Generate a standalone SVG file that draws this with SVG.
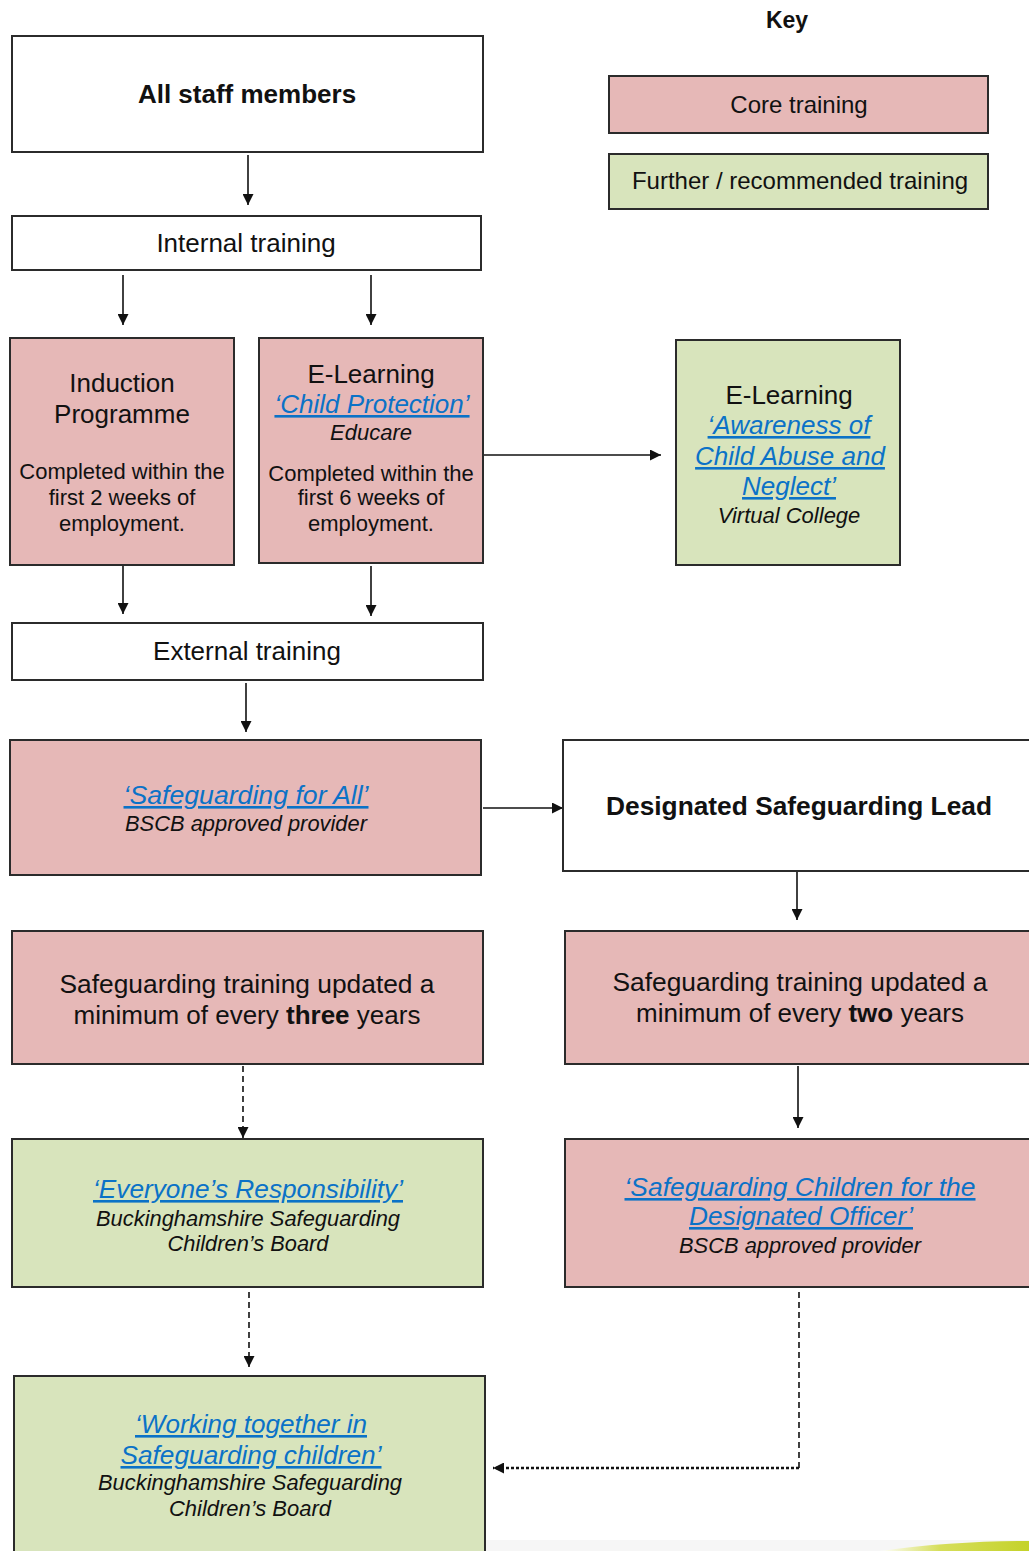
<svg xmlns="http://www.w3.org/2000/svg" width="1029" height="1551" viewBox="0 0 1029 1551">
<defs>
<style>
text{font-family:"Liberation Sans",Arial,sans-serif;fill:#111;text-anchor:middle}
.b{font-weight:bold}
.t26{font-size:26px}
.t24{font-size:24px}
.t22{font-size:22px}
.i{font-style:italic}
.lk{fill:#0B72C7;font-style:italic;text-decoration:underline}
.box{stroke:#2b2b2b;stroke-width:2}
.w{fill:#ffffff}
.core{fill:#E6B8B7}
.fur{fill:#D8E4BC}
.c{stroke:#111;stroke-width:1.6;fill:none}
.d1{stroke-dasharray:6 4}
.d2{stroke-dasharray:3 2;stroke-width:2.6}
</style>
<marker id="ah" viewBox="0 0 10 10" refX="10" refY="5" markerWidth="12" markerHeight="11" markerUnits="userSpaceOnUse" orient="auto">
<path d="M0,0 L10,5 L0,10 z" fill="#111"/>
</marker>
<linearGradient id="sw" x1="0" y1="0" x2="1" y2="0">
<stop offset="0" stop-color="#ffffff"/>
<stop offset="0.4" stop-color="#D6DE5A"/>
<stop offset="1" stop-color="#C4D22A"/>
</linearGradient>
</defs>
<rect width="1029" height="1551" fill="#ffffff"/>

<g id="key">
<text class="b" x="787" y="28" font-size="23">Key</text>
<rect class="box core" x="609" y="76" width="379" height="57"/>
<text class="t24" x="799" y="113">Core training</text>
<rect class="box fur" x="609" y="154" width="379" height="55"/>
<text class="t24" x="800" y="189">Further / recommended training</text>
</g>

<g id="connectors">
<line class="c" x1="248" y1="155" x2="248" y2="205" marker-end="url(#ah)"/>
<line class="c" x1="123" y1="275" x2="123" y2="325" marker-end="url(#ah)"/>
<line class="c" x1="371" y1="275" x2="371" y2="325" marker-end="url(#ah)"/>
<line class="c" x1="483" y1="455" x2="661" y2="455" marker-end="url(#ah)"/>
<line class="c" x1="123" y1="566" x2="123" y2="614" marker-end="url(#ah)"/>
<line class="c" x1="371" y1="566" x2="371" y2="616" marker-end="url(#ah)"/>
<line class="c" x1="246" y1="683" x2="246" y2="732" marker-end="url(#ah)"/>
<line class="c" x1="483" y1="808" x2="563" y2="808" marker-end="url(#ah)"/>
<line class="c" x1="797" y1="871" x2="797" y2="920" marker-end="url(#ah)"/>
<line class="c d1" x1="243" y1="1066" x2="243" y2="1138" marker-end="url(#ah)"/>
<line class="c" x1="798" y1="1066" x2="798" y2="1128" marker-end="url(#ah)"/>
<line class="c d1" x1="249" y1="1292" x2="249" y2="1367" marker-end="url(#ah)"/>
<line class="c d1" x1="799" y1="1292" x2="799" y2="1468"/>
<line class="c d2" x1="799" y1="1468" x2="493" y2="1468" marker-end="url(#ah)"/>
</g>

<g id="n-all-staff">
<rect class="box w" x="12" y="36" width="471" height="116"/>
<text class="b t26" x="247" y="103">All staff members</text>
</g>

<g id="n-internal">
<rect class="box w" x="12" y="216" width="469" height="54"/>
<text class="t26" x="246" y="252">Internal training</text>
</g>

<g id="n-induction">
<rect class="box core" x="10" y="338" width="224" height="227"/>
<text class="t26" x="122" y="392">Induction</text>
<text class="t26" x="122" y="423">Programme</text>
<text class="t22" x="122" y="479">Completed within the</text>
<text class="t22" x="122" y="505">first 2 weeks of</text>
<text class="t22" x="122" y="531">employment.</text>
</g>

<g id="n-elearning-cp">
<rect class="box core" x="259" y="338" width="224" height="225"/>
<text class="t26" x="371" y="383">E-Learning</text>
<text class="t26 lk" x="372" y="413">‘Child Protection’</text>
<text class="t22 i" x="371" y="440">Educare</text>
<text class="t22" x="371" y="481">Completed within the</text>
<text class="t22" x="371" y="505">first 6 weeks of</text>
<text class="t22" x="371" y="531">employment.</text>
</g>

<g id="n-elearning-vc">
<rect class="box fur" x="676" y="340" width="224" height="225"/>
<text class="t26" x="789" y="404">E-Learning</text>
<text class="t26 lk" x="789" y="434">‘Awareness of</text>
<text class="t26 lk" x="790" y="465">Child Abuse and</text>
<text class="t26 lk" x="789" y="495">Neglect’</text>
<text class="t22 i" x="789" y="523">Virtual College</text>
</g>

<g id="n-external">
<rect class="box w" x="12" y="623" width="471" height="57"/>
<text class="t26" x="247" y="660">External training</text>
</g>

<g id="n-sfa">
<rect class="box core" x="10" y="740" width="471" height="135"/>
<text class="t26 lk" x="246" y="804" textLength="245" lengthAdjust="spacingAndGlyphs">‘Safeguarding for All’</text>
<text class="t22 i" x="246" y="831" textLength="242" lengthAdjust="spacingAndGlyphs">BSCB approved provider</text>
</g>

<g id="n-dsl">
<rect class="box w" x="563" y="740" width="480" height="131"/>
<text class="b t26" x="799" y="815" textLength="386" lengthAdjust="spacingAndGlyphs">Designated Safeguarding Lead</text>
</g>

<g id="n-update-three">
<rect class="box core" x="12" y="931" width="471" height="133"/>
<text class="t26" x="247" y="993" textLength="375" lengthAdjust="spacingAndGlyphs">Safeguarding training updated a</text>
<text class="t26" x="247" y="1024">minimum of every <tspan class="b">three</tspan> years</text>
</g>

<g id="n-update-two">
<rect class="box core" x="565" y="931" width="478" height="133"/>
<text class="t26" x="800" y="991" textLength="375" lengthAdjust="spacingAndGlyphs">Safeguarding training updated a</text>
<text class="t26" x="800" y="1022">minimum of every <tspan class="b">two</tspan> years</text>
</g>

<g id="n-everyone">
<rect class="box fur" x="12" y="1139" width="471" height="148"/>
<text class="t26 lk" x="248" y="1198" textLength="310" lengthAdjust="spacingAndGlyphs">‘Everyone’s Responsibility’</text>
<text class="t22 i" x="248" y="1226" textLength="304" lengthAdjust="spacingAndGlyphs">Buckinghamshire Safeguarding</text>
<text class="t22 i" x="248" y="1251" textLength="161" lengthAdjust="spacingAndGlyphs">Children’s Board</text>
</g>

<g id="n-designated-officer">
<rect class="box core" x="565" y="1139" width="478" height="148"/>
<text class="t26 lk" x="800" y="1196" textLength="351" lengthAdjust="spacingAndGlyphs">‘Safeguarding Children for the</text>
<text class="t26 lk" x="801" y="1225" textLength="224" lengthAdjust="spacingAndGlyphs">Designated Officer’</text>
<text class="t22 i" x="800" y="1253" textLength="242" lengthAdjust="spacingAndGlyphs">BSCB approved provider</text>
</g>

<g id="n-working-together">
<rect class="box fur" x="14" y="1376" width="471" height="190"/>
<text class="t26 lk" x="251" y="1433" textLength="232" lengthAdjust="spacingAndGlyphs">‘Working together in</text>
<text class="t26 lk" x="251" y="1464" textLength="261" lengthAdjust="spacingAndGlyphs">Safeguarding children’</text>
<text class="t22 i" x="250" y="1490" textLength="304" lengthAdjust="spacingAndGlyphs">Buckinghamshire Safeguarding</text>
<text class="t22 i" x="250" y="1516" textLength="162" lengthAdjust="spacingAndGlyphs">Children’s Board</text>
</g>

<g id="decor">
<rect x="486" y="1540" width="543" height="11" fill="#F6F6F6"/>
<path d="M880,1551 C930,1544 980,1541 1029,1541 L1029,1551 Z" fill="url(#sw)"/>
</g>
</svg>
